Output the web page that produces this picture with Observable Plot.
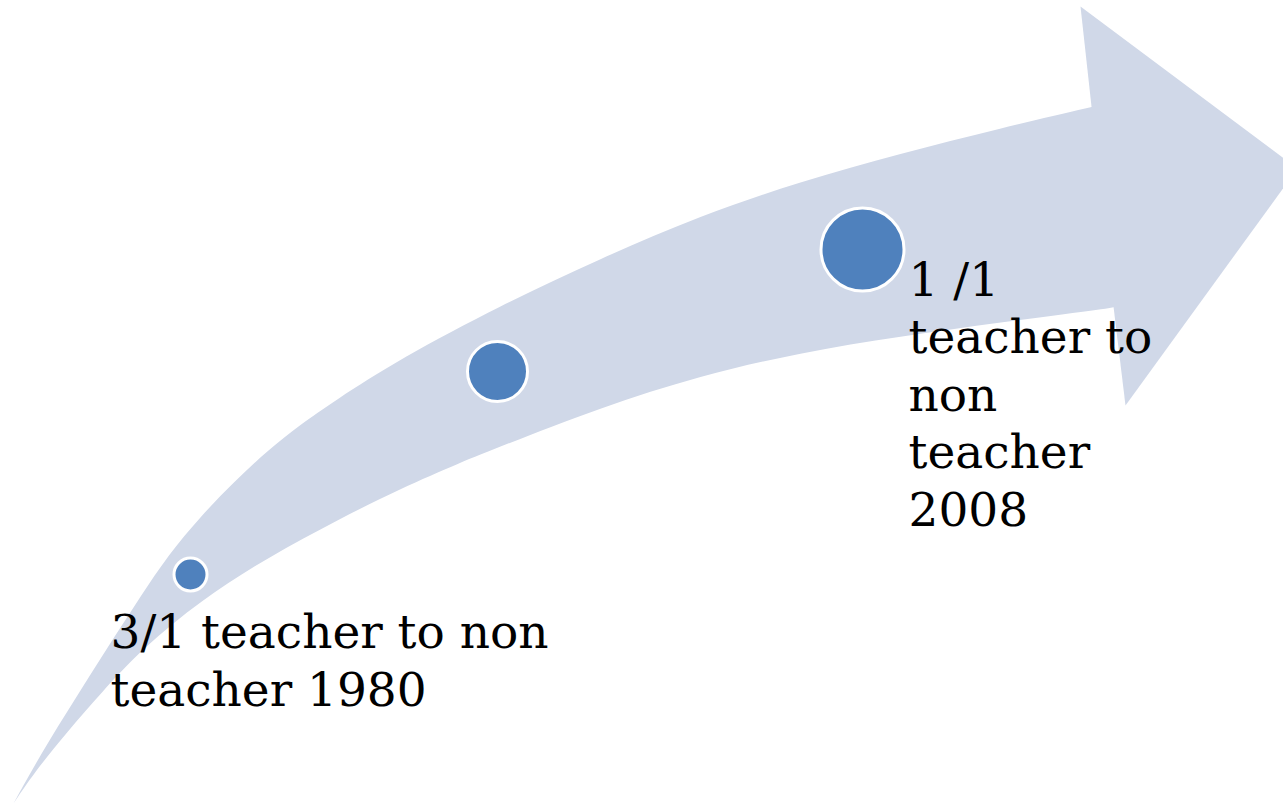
<!DOCTYPE html>
<html><head><meta charset="utf-8">
<script src="https://cdn.jsdelivr.net/npm/d3@7"></script>
<script src="https://cdn.jsdelivr.net/npm/@observablehq/plot@0.6"></script>
<style>html,body{margin:0;padding:0;background:#fff;overflow:hidden}</style>
</head><body><div id="chart"></div>
<script>
// Curved arrow shaft: upper edge (tip -> head) and lower edge (head -> tip)
const upperX = [13, 40, 75, 107, 140, 168, 200, 233, 267, 300, 333, 400, 500, 600, 700, 800, 900, 1000, 1091, 1150];
const upperY = [803, 754, 698, 647, 596, 554, 516, 482, 450, 424, 401, 358, 305, 258, 215, 181, 153, 128, 106, 94];
const lowerX = [1150, 1113, 1000, 900, 800, 700, 600, 500, 460, 400, 340, 267, 200, 143, 100, 67, 33, 13];
const lowerY = [302, 307, 322, 336, 352, 375, 407, 446, 462, 488, 518, 557, 600, 647, 693, 731, 773, 803];
// Arrow head outline
const headX = [1080, 1297, 1125, 1113, 1091];
const headY = [6, 168, 405, 306, 106];
// Milestone circles
const dotX = [190, 497, 862];
const dotY = [574, 371, 249];
const dotR = [16.5, 30, 41.5];
// Labels
const labelText = ["3/1 teacher to non\nteacher 1980", "1 /1\nteacher to\nnon\nteacher\n2008"];
const labelX = [110, 908];
const labelY = [705, 525];

const shaft = [
  ...upperX.map((x, i) => ({x, y: upperY[i]})),
  ...lowerX.map((x, i) => ({x, y: lowerY[i]}))
];
const head = headX.map((x, i) => ({x, y: headY[i]}));
const dots = dotX.map((x, i) => ({x, y: dotY[i], r: dotR[i]}));
const labels = labelText.map((text, i) => ({text, x: labelX[i], y: labelY[i]}));

const chart = Plot.plot({
  width: 1283, height: 804, margin: 0,
  x: {domain: [0, 1283], range: [0, 1283], axis: null},
  y: {domain: [0, 804], range: [0, 804], axis: null},
  r: {type: "identity"},
  style: {background: "#fff", overflow: "hidden"},
  marks: [
    Plot.line(shaft, {x: "x", y: "y", fill: "#D0D8E8", stroke: "none", curve: "basis", clip: true}),
    Plot.line(head, {x: "x", y: "y", fill: "#D0D8E8", stroke: "none", curve: "linear", clip: true}),
    Plot.dot(dots, {x: "x", y: "y", r: "r", fill: "#4F81BD", stroke: "#fff", strokeWidth: 3}),
    Plot.text(labels, {x: "x", y: "y", text: "text", textAnchor: "start", lineAnchor: "bottom",
      lineHeight: 1.223, fontSize: 47, fontFamily: "DejaVu Serif", fill: "#000"})
  ]
});
document.getElementById("chart").appendChild(chart);
</script>
</body></html>
